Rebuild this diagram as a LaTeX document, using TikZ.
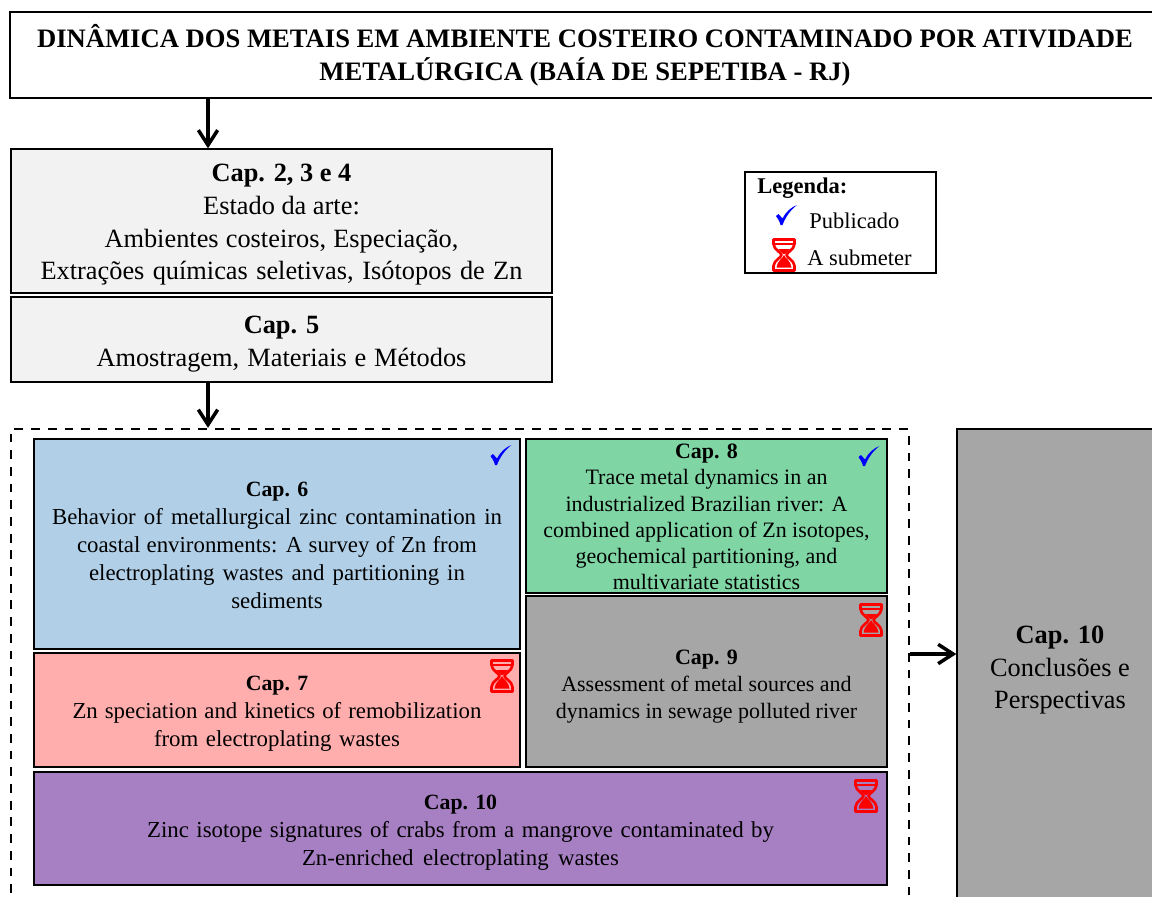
\documentclass[tikz,border=0pt]{standalone}
\usepackage{fontspec}
\setmainfont{Liberation Serif}
\usetikzlibrary{arrows.meta}
\definecolor{boxgray}{HTML}{F2F2F2}
\definecolor{boxblue}{HTML}{B1D0E8}
\definecolor{boxred}{HTML}{FFADAD}
\definecolor{boxgreen}{HTML}{7FD6A4}
\definecolor{boxdark}{HTML}{A6A6A6}
\definecolor{boxpurple}{HTML}{A77FC3}
\newcommand{\capline}[2]{\raisebox{0pt}[\dimexpr\height+#1\relax]{\textbf{#2}}}
\newcommand{\capsmall}[2]{\raisebox{0pt}[\dimexpr\height+#1\relax]{\fontsize{12.4}{14}\selectfont\textbf{#2}}}
\newcommand{\fitline}[2]{\hbox to #1{#2}}
\tikzset{
  capbox/.style={draw, line width = .8pt, align = center, inner sep = 0pt},
  bigtext/.style={font = \fontsize{15}{18.6}\selectfont},
  midtext/.style={font = \fontsize{13}{15.9}\selectfont},
  smalltext/.style={font = \fontsize{12.5}{14.9}\selectfont},
  legtext/.style={anchor = west, inner sep = 0pt, font = \fontsize{12.8}{15}\selectfont},
  linkarrow/.style={->, line width = 2pt, >={Straight Barb[length = 8.5pt, width = 11pt]}},
  checkmark/.pic={\fill [blue] (-10.5,1) -- (-8,-1) -- (-4,3.5) .. controls (-1,-3) and (5,-8) .. (10.5,-10) .. controls (4,-5) and (-1,2) .. (-4,10) -- (-6,10) .. controls (-7,6) and (-9,3) .. (-10.5,1) -- cycle;},
  hourglass/.pic={
    \fill [red] (-6,-6) -- (6,-6) -- (1,-1) -- (-1,-1) -- cycle;
    \fill [red] (0,0) .. controls (1,3) and (7,6) .. (7.5,12.5) -- (-7.5,12.5) .. controls (-7,6) and (-1,3) .. (0,0) -- cycle;
    \draw [red, line width = 1.5pt, line join = round] (-10.5,-15.5) -- (10.5,-15.5) -- (10.5,-11) .. controls (10,-5) and (3,-3) .. (2.5,0) .. controls (3,3) and (10,5) .. (10.5,11) -- (10.5,15.5) -- (-10.5,15.5) -- (-10.5,11) .. controls (-10,5) and (-3,3) .. (-2.5,0) .. controls (-3,-3) and (-10,-5) .. (-10.5,-11) -- cycle;
    \draw [red, line width = .6pt] (-10.5,-11) -- (10.5,-11);
  }
}
\begin{document}
\begin{tikzpicture}[x=.02cm,y=-.02cm]
\useasboundingbox (0,0) rectangle (1152,896);
\clip (0,0) rectangle (1152,896);
\coordinate (axis) at (208,0);
\coordinate (row) at (0,654);
\node [capbox, minimum width = 23cm, minimum height = 1.72cm, font = \fontsize{15.15}{18.6}\selectfont\bfseries] (title) at (585,55) {DINÂMICA DOS METAIS EM AMBIENTE COSTEIRO CONTAMINADO POR ATIVIDADE\\METALÚRGICA (BAÍA DE SEPETIBA - RJ)};
\node [capbox, bigtext, fill = boxgray, minimum width = 10.82cm, minimum height = 2.88cm] (arte) at (281.5,221) {\capline{4.5pt}{Cap. 2, 3 e 4}\\Estado da arte:\\\fitline{7.08cm}{Ambientes costeiros, Especiação,}\\\fitline{9.64cm}{Extrações químicas seletivas, Isótopos de Zn}};
\node [capbox, bigtext, fill = boxgray, minimum width = 10.82cm, minimum height = 1.7cm] (metodos) at (281.5,339.5) {\capline{5.5pt}{Cap. 5}\\\fitline{7.4cm}{Amostragem, Materiais e Métodos}};
\node [draw, line width = 1.4pt, dash pattern = on 5pt off 4.5pt, inner sep = 0pt, minimum width = 17.96cm, minimum height = 10.4cm] (results) at (460,689) {};
\node [capbox, midtext, fill = boxblue, minimum width = 9.72cm, minimum height = 4.2cm] (cap6) at (277,544) {\capsmall{1.2pt}{Cap. 6}\\\fitline{9cm}{Behavior of metallurgical zinc contamination in}\\\fitline{8cm}{coastal environments: A survey of Zn from}\\\fitline{7.52cm}{electroplating wastes and partitioning in}\\sediments};
\node [capbox, midtext, fill = boxred, minimum width = 9.72cm, minimum height = 2.28cm] (cap7) at (277,710) {\capsmall{4.5pt}{Cap. 7}\\\fitline{8.18cm}{Zn speciation and kinetics of remobilization}\\\fitline{4.92cm}{from electroplating wastes}};
\node [capbox, smalltext, fill = boxgreen, minimum width = 7.22cm, minimum height = 3.08cm] (cap8) at (706.5,516) {\capline{1.2pt}{Cap. 8}\\Trace metal dynamics in an\\industrialized Brazilian river: A\\combined application of Zn isotopes,\\geochemical partitioning, and\\multivariate statistics};
\node [capbox, fill = boxdark, minimum width = 7.22cm, minimum height = 3.42cm, font = \fontsize{12.5}{15.3}\selectfont] (cap9) at (706.5,681.5) {\capline{5.5pt}{Cap. 9}\\Assessment of metal sources and\\dynamics in sewage polluted river};
\node [capbox, midtext, fill = boxpurple, minimum width = 17.06cm, minimum height = 2.26cm] (cap10) at (460.5,828.5) {\capsmall{4.5pt}{Cap. 10}\\\fitline{12.54cm}{Zinc isotope signatures of crabs from a mangrove contaminated by}\\\fitline{6.34cm}{Zn-enriched electroplating wastes}};
\node [capbox, bigtext, fill = boxdark, minimum width = 4.12cm, minimum height = 9.52cm] (conclusao) at (1060,667) {\capline{3.5pt}{Cap. 10}\\Conclusões e\\Perspectivas};
\node [draw, line width = .8pt, inner sep = 0pt, minimum width = 3.82cm, minimum height = 2.02cm] (legenda) at (840.5,222.5) {};
\node [legtext] (legtitle) at (757,188) {\textbf{Legenda:}};
\node [legtext] (legpub) at (809,221) {Publicado};
\node [legtext] (legsub) at (807,257.5) {A submeter};
\draw [linkarrow] (title.south -| axis) -- (arte.north -| axis);
\draw [linkarrow] (metodos.south -| axis) -- (results.north -| axis);
\draw [linkarrow] (results.east |- row) -- (conclusao.west |- row);
\pic at (786.5,215) {checkmark};
\pic at (501,455) {checkmark};
\pic at (869,456) {checkmark};
\pic at (784,255) {hourglass};
\pic at (502,676) {hourglass};
\pic at (871,620) {hourglass};
\pic at (866,796) {hourglass};
\end{tikzpicture}
\end{document}
